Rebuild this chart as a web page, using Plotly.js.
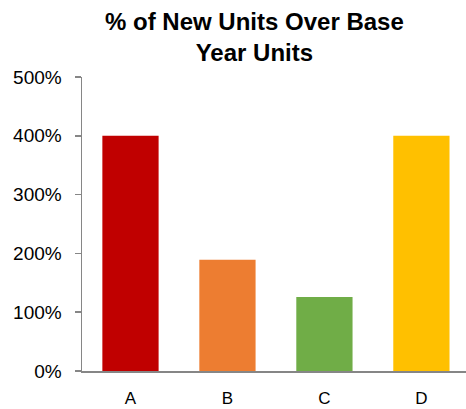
<!DOCTYPE html>
<html>
<head>
<meta charset="utf-8">
<script src="https://cdn.plot.ly/plotly-3.0.1.min.js"></script>
<style>html,body{margin:0;padding:0;background:#fff;}#chart{width:466px;height:409px;}</style>
</head>
<body>
<div id="chart"></div>
<script>
const categories = ["A", "B", "C", "D"];
const values = [4.00, 1.89, 1.26, 4.00];
const colors = ["#C00000", "#ED7D31", "#70AD47", "#FFC000"];
const yTickVals = [0, 1, 2, 3, 4, 5];
const yTickText = ["0%", "100%", "200%", "300%", "400%", "500%"];
const titleText = "<b>% of New Units Over Base<br>Year Units</b>";

const trace = {
  type: "bar",
  x: categories,
  y: values,
  marker: {color: colors, line: {width: 0}},
  hoverinfo: "none"
};

const layout = {
  width: 466,
  height: 409,
  margin: {l: 82, r: 0, t: 77, b: 38},
  paper_bgcolor: "#ffffff",
  plot_bgcolor: "#ffffff",
  bargap: 0.42,
  showlegend: false,
  font: {family: "Liberation Sans, Arial, sans-serif", size: 18, color: "#000000"},
  annotations: [{
    text: titleText,
    xref: "paper", yref: "paper",
    x: 0.45, y: 1.0 + 40 / 294,
    xanchor: "center", yanchor: "middle",
    showarrow: false,
    font: {family: "Liberation Sans, Arial, sans-serif", size: 24, color: "#000000"}
  }],
  xaxis: {
    type: "category",
    range: [-0.5, 3.46],
    showline: true,
    linecolor: "#868686",
    linewidth: 1.5,
    ticks: "",
    showgrid: false,
    zeroline: false,
    ticklabelstandoff: 11,
    tickfont: {size: 17}
  },
  yaxis: {
    range: [0, 5],
    tickvals: yTickVals,
    ticktext: yTickText,
    showline: true,
    linecolor: "#868686",
    linewidth: 1.5,
    ticks: "outside",
    ticklen: 6,
    tickcolor: "#868686",
    tickwidth: 1.5,
    showgrid: false,
    zeroline: false,
    ticklabelstandoff: 9,
    tickfont: {size: 19}
  }
};

Plotly.newPlot("chart", [trace], layout, {displayModeBar: false, staticPlot: true});
</script>
</body>
</html>
